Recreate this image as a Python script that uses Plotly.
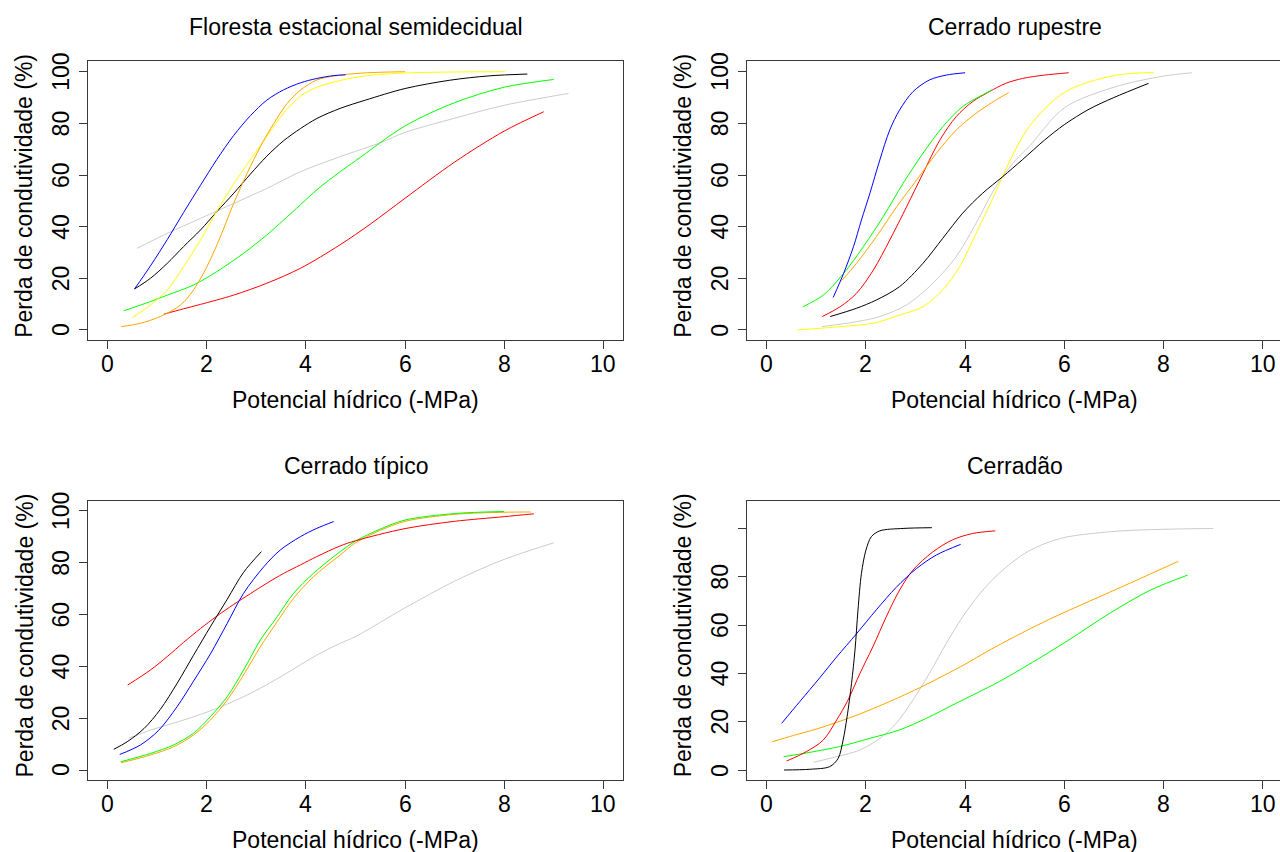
import plotly.graph_objects as go

# ---------------- data ----------------
TITLES = ["Floresta estacional semidecidual", "Cerrado rupestre", "Cerrado típico", "Cerradão"]
XLABEL = "Potencial hídrico (-MPa)"
YLABEL = "Perda de condutividade (%)"
X_TICKS = [0, 2, 4, 6, 8, 10]
Y_TICKS = [0, 20, 40, 60, 80, 100]
Y_TICKTEXT_4 = ["0", "20", "40", "60", "80", ""]

COLORS = {"blue": "#0000FF", "orange": "#FFA500", "yellow": "#FFFF00", "black": "#000000",
          "gray": "#CCCCCC", "green": "#00FF00", "red": "#FF0000"}

# Panel 1 - Floresta estacional semidecidual
p1_gray_x = [0.59, 1.2, 1.87, 2.54, 3.21, 3.89, 4.69, 5.5, 6.0, 7.0, 8.0, 9.3]
p1_gray_y = [31.6, 37.4, 43.2, 49, 54.8, 61.3, 67.1, 72.5, 76.5, 82, 87, 91.6]
p1_red_x = [1.13, 1.53, 1.87, 2.54, 3.21, 3.89, 4.69, 5.3, 6.0, 7.0, 8.0, 8.8]
p1_red_y = [6.1, 8.2, 9.9, 13.5, 18.1, 23.9, 33.0, 41, 51, 65, 77, 84.5]
p1_green_x = [0.32, 0.86, 1.2, 1.73, 2.2, 2.74, 3.21, 3.55, 3.89, 4.22, 4.69, 5.0, 6.0, 7.0, 8.0, 9.0]
p1_green_y = [7.4, 11, 13.5, 17.4, 22.6, 29.7, 36.8, 42.6, 48.5, 54.3, 61.3, 65.5, 79, 88, 94, 97]
p1_black_x = [0.54, 0.86, 1.2, 1.53, 1.87, 2.2, 2.54, 2.88, 3.21, 3.55, 3.89, 4.22, 4.69, 5.2, 6.0, 6.9, 7.7, 8.47]
p1_black_y = [15.9, 20, 25.8, 32.3, 38.7, 45.8, 52.9, 60.4, 67.3, 73.3, 78, 81.9, 85.8, 89, 93.5, 96.7, 98.4, 99.1]
p1_yellow_x = [0.5, 0.86, 1.2, 1.53, 1.87, 2.2, 2.54, 2.88, 3.21, 3.55, 3.89, 4.22, 4.69, 5.2, 6.0, 7.0, 8.02]
p1_yellow_y = [4.8, 9.7, 15.5, 24.5, 34.8, 46, 56.5, 66, 75, 84, 90.5, 94, 96.6, 98.4, 99.5, 99.9, 100]
p1_orange_x = [0.27, 0.66, 1.06, 1.47, 1.73, 2.0, 2.27, 2.54, 2.81, 3.08, 3.35, 3.62, 3.89, 4.22, 4.56, 5.0, 5.5, 6.0]
p1_orange_y = [1.3, 2.6, 5.2, 9.7, 15.5, 24.5, 36, 49, 60.6, 71, 80, 87.7, 92.9, 96.8, 98.3, 99.3, 99.8, 100]
p1_blue_x = [0.54, 0.86, 1.2, 1.53, 1.87, 2.2, 2.54, 2.88, 3.21, 3.55, 3.89, 4.22, 4.56, 4.8]
p1_blue_y = [15.9, 24.8, 35, 45.5, 56, 66, 75.3, 83, 89, 93, 95.7, 97.4, 98.5, 98.8]

# Panel 2 - Cerrado rupestre
p2_gray_x = [1.11, 1.81, 2.28, 2.82, 3.35, 3.82, 4.22, 4.62, 5.02, 5.29, 6.0, 7.0, 8.0, 8.58]
p2_gray_y = [1.3, 3.2, 5.2, 9.7, 18.1, 28.4, 41.3, 55.5, 65.8, 71, 86, 94, 98.3, 99.6]
p2_yellow_x = [0.62, 1.48, 2.15, 2.68, 3.15, 3.55, 3.89, 4.22, 4.56, 4.89, 5.29, 6.0, 7.0, 7.8]
p2_yellow_y = [0, 1.3, 2.6, 5.8, 9, 15.5, 24.5, 37.4, 51, 65, 78.7, 92, 98.5, 99.7]
p2_black_x = [1.28, 1.81, 2.21, 2.68, 3.15, 3.55, 3.95, 4.35, 4.76, 5.16, 5.6, 6.0, 6.5, 7.0, 7.7]
p2_black_y = [5.2, 8.4, 11.6, 16.8, 25.8, 35.5, 45.2, 52.9, 59.4, 66, 73.5, 79.5, 85.5, 90, 95.5]
p2_red_x = [1.12, 1.48, 1.81, 2.15, 2.48, 2.82, 3.15, 3.49, 3.82, 4.15, 4.49, 4.82, 5.16, 5.6, 6.09]
p2_red_y = [5.2, 9, 14.2, 23.2, 34.8, 47.7, 60.6, 73.5, 82.6, 88.4, 92.3, 95.5, 97.4, 98.7, 99.6]
p2_orange_x = [1.51, 1.81, 2.21, 2.62, 3.02, 3.42, 3.82, 4.22, 4.62, 4.88]
p2_orange_y = [19.1, 25.8, 36.1, 47.7, 58, 68.4, 77.4, 83.9, 89, 91.9]
p2_green_x = [0.73, 1.14, 1.55, 1.95, 2.35, 2.75, 3.15, 3.55, 3.95, 4.35, 4.55]
p2_green_y = [9.0, 13.5, 21.9, 32.3, 43.9, 56.8, 68.4, 78.7, 86.5, 91, 93]
p2_blue_x = [1.34, 1.55, 1.75, 1.91, 2.08, 2.28, 2.48, 2.68, 2.95, 3.28, 3.62, 4.0]
p2_blue_y = [12.6, 21.9, 32.3, 42.6, 52.9, 65.8, 77.4, 85.2, 92.3, 96.8, 98.7, 99.6]

# Panel 3 - Cerrado típico
p3_gray_x = [0.42, 0.86, 1.53, 2.2, 2.88, 3.55, 4.22, 4.69, 5.0, 6.0, 7.0, 8.0, 9.0]
p3_gray_y = [12.2, 15.4, 19.3, 23.8, 29.6, 36.7, 44.4, 48.9, 51.5, 62.6, 72.9, 81.3, 87.7]
p3_orange_x = [0.27, 0.86, 1.33, 1.73, 2.07, 2.41, 2.74, 3.08, 3.42, 3.75, 4.15, 4.69, 5.0, 5.5, 6.0, 7.0, 8.0, 8.54]
p3_orange_y = [2.8, 5.8, 9, 13.5, 19.3, 27, 36.7, 47.6, 57.3, 66.3, 74.6, 83, 87.7, 92.5, 96, 98.7, 99.5, 99.6]
p3_green_x = [0.26, 0.86, 1.33, 1.73, 2.07, 2.41, 2.74, 3.08, 3.42, 3.75, 4.15, 4.69, 5.0, 5.5, 6.0, 7.0, 8.0]
p3_green_y = [3.2, 6.4, 9.7, 14.2, 20.6, 28.3, 38.6, 50.2, 59.2, 68.2, 75.9, 84.3, 88.4, 93, 96.5, 99, 99.8]
p3_red_x = [0.4, 0.86, 1.2, 1.53, 1.87, 2.2, 2.54, 2.88, 3.21, 3.55, 3.89, 4.22, 4.69, 5.0, 6.0, 7.0, 8.0, 8.6]
p3_red_y = [32.8, 38.6, 43.8, 49.3, 54.6, 59.4, 63.9, 68.1, 72.1, 75.9, 79.2, 82.4, 86.5, 88.5, 93.2, 96, 97.8, 98.9]
p3_blue_x = [0.24, 0.66, 1.03, 1.4, 1.73, 2.07, 2.41, 2.74, 3.15, 3.48, 3.89, 4.22, 4.56]
p3_blue_y = [6, 9.7, 15.4, 24.5, 34.3, 44.8, 56.6, 68.2, 78.5, 84.9, 90.1, 93.3, 95.9]
p3_black_x = [0.12, 0.39, 0.73, 1.06, 1.4, 1.73, 2.07, 2.41, 2.74, 3.1]
p3_black_y = [8, 10.9, 16.0, 23.4, 33.5, 44.3, 55.3, 65.9, 76.3, 84.3]

# Panel 4 - Cerradão
p4_gray_x = [0.94, 1.41, 1.88, 2.28, 2.61, 2.95, 3.28, 3.62, 3.95, 4.29, 4.69, 5.27, 5.93, 6.91, 7.74, 9.0]
p4_gray_y = [3.2, 5.5, 8.3, 13.1, 19.3, 29, 40, 52.4, 63.4, 72.8, 81.5, 90.5, 95.9, 98.6, 99.5, 100]
p4_green_x = [0.34, 0.87, 1.47, 2.08, 2.68, 3.22, 3.75, 4.22, 4.69, 5.27, 6.09, 6.91, 7.74, 8.49]
p4_green_y = [5.5, 7.3, 9.7, 13.1, 16.6, 21.4, 26.9, 31.7, 36.6, 43.5, 53.8, 64.8, 74.5, 80.7]
p4_orange_x = [0.11, 0.54, 1.01, 1.41, 1.88, 2.28, 2.68, 3.08, 3.55, 4.02, 4.44, 5.0, 5.68, 6.5, 7.33, 8.3]
p4_orange_y = [11.7, 14.3, 17.0, 19.7, 23.2, 26.6, 30.2, 34.0, 38.9, 44.0, 49.0, 55.2, 62.2, 69.8, 77.4, 86.4]
p4_red_x = [0.4, 0.8, 1.14, 1.41, 1.64, 1.88, 2.14, 2.41, 2.68, 2.95, 3.35, 3.75, 4.15, 4.61]
p4_red_y = [3.7, 7.6, 12.4, 20.7, 29, 40, 51, 63.4, 74.5, 82.8, 90.3, 95.3, 97.9, 99]
p4_blue_x = [0.3, 0.67, 1.07, 1.41, 1.81, 2.21, 2.61, 3.02, 3.42, 3.91]
p4_blue_y = [19.3, 28.4, 38.2, 46.8, 56.4, 66.3, 75.6, 83.4, 89, 93.4]
p4_black_x = [0.35, 0.87, 1.27, 1.44, 1.54, 1.62, 1.71, 1.78, 1.84, 1.91, 2.0, 2.11, 2.28, 2.75, 3.33]
p4_black_y = [0, 0.3, 1.4, 4.8, 12.4, 22, 35.9, 49.7, 66.2, 81.4, 91, 96.6, 99, 100, 100.3]

PANELS = [
    [("gray", p1_gray_x, p1_gray_y), ("red", p1_red_x, p1_red_y), ("green", p1_green_x, p1_green_y),
     ("black", p1_black_x, p1_black_y), ("yellow", p1_yellow_x, p1_yellow_y),
     ("orange", p1_orange_x, p1_orange_y), ("blue", p1_blue_x, p1_blue_y)],
    [("gray", p2_gray_x, p2_gray_y), ("yellow", p2_yellow_x, p2_yellow_y), ("black", p2_black_x, p2_black_y),
     ("red", p2_red_x, p2_red_y), ("orange", p2_orange_x, p2_orange_y), ("green", p2_green_x, p2_green_y),
     ("blue", p2_blue_x, p2_blue_y)],
    [("gray", p3_gray_x, p3_gray_y), ("orange", p3_orange_x, p3_orange_y), ("green", p3_green_x, p3_green_y),
     ("red", p3_red_x, p3_red_y), ("blue", p3_blue_x, p3_blue_y), ("black", p3_black_x, p3_black_y)],
    [("gray", p4_gray_x, p4_gray_y), ("green", p4_green_x, p4_green_y), ("orange", p4_orange_x, p4_orange_y),
     ("red", p4_red_x, p4_red_y), ("blue", p4_blue_x, p4_blue_y), ("black", p4_black_x, p4_black_y)],
]

# ---------------- layout (pixel geometry) ----------------
W, H = 1280, 852
FONT = "Liberation Sans, Arial, sans-serif"
AX = "#3a3a3a"
FS = 23

# box pixel positions: (left, right, top, bottom), x range, y range
BOXES = [
    (88.0, 623.0, 61.4, 340.3, [-0.4, 10.4], [-4, 104]),
    (746.9, 1280.0, 61.4, 340.3, [-0.4, 10.35], [-4, 104]),
    (88.0, 623.0, 500.6, 780.4, [-0.4, 10.4], [-4, 104]),
    (746.9, 1280.0, 500.9, 779.9, [-0.4, 10.35], [-4.1, 111.4]),
]

fig = go.Figure()
layout = dict(width=W, height=H, margin=dict(l=0, r=0, t=0, b=0, pad=0),
              paper_bgcolor="white", plot_bgcolor="white", showlegend=False,
              font=dict(family=FONT, color="black"))
annotations = []


def txt(text, **kw):
    d = dict(text=text, showarrow=False, xanchor="center", yanchor="middle",
             font=dict(size=FS, family=FONT, color="black"))
    d.update(kw)
    return d


for i, (curves, box) in enumerate(zip(PANELS, BOXES)):
    n = i + 1
    left, right, top, bottom, xr, yr = box
    sfx = "" if n == 1 else str(n)
    for cname, xs, ys in curves:
        fig.add_trace(go.Scatter(x=xs, y=ys, mode="lines", xaxis="x" + sfx, yaxis="y" + sfx,
                                 line=dict(color=COLORS[cname], width=1, shape="spline", smoothing=0.9),
                                 hoverinfo="skip"))
    full_box = right < W - 1
    layout["xaxis" + sfx] = dict(domain=[left / W, right / W], range=xr, anchor="y" + sfx,
                                 tickvals=X_TICKS, showticklabels=False, showgrid=False, zeroline=False,
                                 showline=True, linecolor=AX, linewidth=1, mirror=True,
                                 ticks="outside", ticklen=8, tickwidth=1, tickcolor=AX)
    layout["yaxis" + sfx] = dict(domain=[1 - bottom / H, 1 - top / H], range=yr, anchor="x" + sfx,
                                 tickvals=Y_TICKS, showticklabels=False, showgrid=False, zeroline=False,
                                 showline=True, linecolor=AX, linewidth=1, mirror=full_box,
                                 ticks="outside", ticklen=8, tickwidth=1, tickcolor=AX)
    # tick labels placed through the axes' own scales
    for v in X_TICKS:
        annotations.append(txt(str(v), x=v, xref="x" + sfx, y=1 - (bottom + 24) / H, yref="paper"))
    ylabels = Y_TICKTEXT_4 if n == 4 else [str(v) for v in Y_TICKS]
    for v, lab in zip(Y_TICKS, ylabels):
        if lab:
            annotations.append(txt(lab, x=(left - 27) / W, xref="paper", y=v, yref="y" + sfx, textangle=-90))
    cx = (left + (right if full_box else left + 535.6)) / 2
    annotations.append(txt(TITLES[i], x=cx / W, y=1 - (top - 34.5) / H, xref="paper", yref="paper"))
    annotations.append(txt(XLABEL, x=cx / W, y=1 - (bottom + 60) / H, xref="paper", yref="paper"))
    annotations.append(txt(YLABEL, x=(left - 64) / W, y=1 - ((top + bottom) / 2 - 5) / H,
                           xref="paper", yref="paper", textangle=-90))

layout["annotations"] = annotations
fig.update_layout(**layout)
fig.write_html("out.html", config={"displayModeBar": False},
               post_script="document.body.style.margin='0px';")
